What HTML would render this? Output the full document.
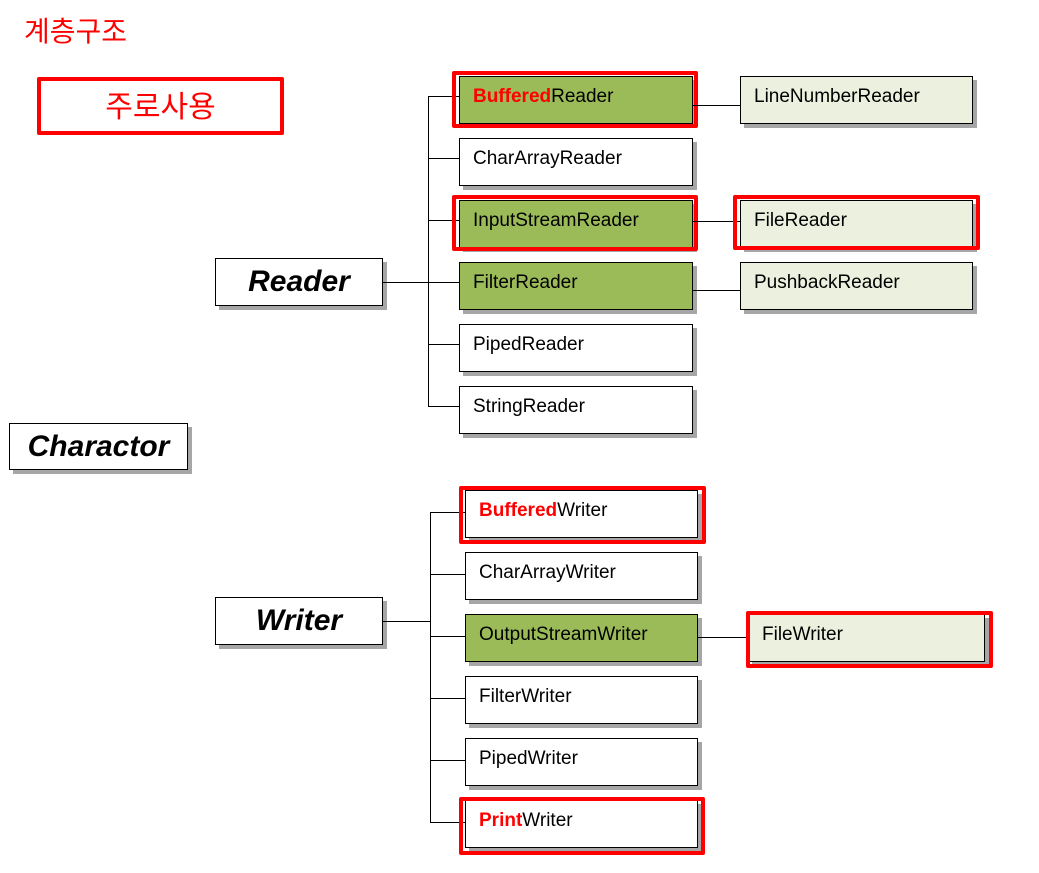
<!DOCTYPE html>
<html><head><meta charset="utf-8"><style>
body{margin:0;width:1039px;height:873px;background:#fff;position:relative;overflow:hidden;font-family:"Liberation Sans","Noto Sans CJK KR",sans-serif}
.b{position:absolute;box-sizing:border-box;border:1.5px solid #000;background:#fff;box-shadow:4px 4px 0 #a6a6a6;font-size:19px;padding-left:13px;line-height:40px;color:#000}
.g{background:#9bbb59}
.l{background:#ebf1de}
.r{position:absolute;box-sizing:border-box;border:4px solid #f00;border-radius:2px}
.h{position:absolute;height:1px;background:#000}
.v{position:absolute;width:1px;background:#000}
.big{font-size:30px;font-weight:bold;font-style:italic;text-align:center;padding-left:0;line-height:46px}
.red{color:#f00;font-weight:bold}
</style></head><body>
<div style="position:absolute;left:24px;top:10px;color:#f00;font-size:28px;font-family:'Noto Sans CJK KR',sans-serif">계층구조</div>
<div class="r" style="left:37px;top:77px;width:247px;height:58px"></div>
<div style="position:absolute;left:37px;top:80px;width:247px;text-align:center;color:#f00;font-size:30px;font-family:'Noto Sans CJK KR',sans-serif;line-height:48px">주로사용</div>

<div class="b big" style="left:215px;top:258px;width:168px;height:48px">Reader</div>
<div class="b big" style="left:9px;top:423px;width:179px;height:47px">Charactor</div>
<div class="b big" style="left:215px;top:597px;width:168px;height:48px">Writer</div>

<div class="h" style="left:383px;top:282px;width:45px"></div>
<div class="v" style="left:428px;top:96px;height:311px"></div>
<div class="h" style="left:428px;top:96px;width:31px"></div>
<div class="h" style="left:428px;top:158px;width:31px"></div>
<div class="h" style="left:428px;top:220px;width:31px"></div>
<div class="h" style="left:428px;top:282px;width:31px"></div>
<div class="h" style="left:428px;top:344px;width:31px"></div>
<div class="h" style="left:428px;top:406px;width:31px"></div>

<div class="b g" style="left:459px;top:76px;width:234px;height:48px"><span class="red">Buffered</span>Reader</div>
<div class="b" style="left:459px;top:138px;width:234px;height:48px">CharArrayReader</div>
<div class="b g" style="left:459px;top:200px;width:234px;height:48px">InputStreamReader</div>
<div class="b g" style="left:459px;top:262px;width:234px;height:48px">FilterReader</div>
<div class="b" style="left:459px;top:324px;width:234px;height:48px">PipedReader</div>
<div class="b" style="left:459px;top:386px;width:234px;height:48px">StringReader</div>
<div class="r" style="left:452px;top:71px;width:246px;height:57px"></div>
<div class="r" style="left:452px;top:195px;width:246px;height:56px"></div>

<div class="h" style="left:693px;top:105px;width:47px"></div>
<div class="h" style="left:693px;top:221px;width:47px"></div>
<div class="h" style="left:693px;top:290px;width:47px"></div>
<div class="b l" style="left:740px;top:76px;width:233px;height:48px">LineNumberReader</div>
<div class="b l" style="left:740px;top:200px;width:233px;height:48px">FileReader</div>
<div class="b l" style="left:740px;top:262px;width:233px;height:48px">PushbackReader</div>
<div class="r" style="left:733px;top:195px;width:247px;height:55px"></div>

<div class="h" style="left:383px;top:621px;width:47px"></div>
<div class="v" style="left:430px;top:512px;height:311px"></div>
<div class="h" style="left:430px;top:512px;width:35px"></div>
<div class="h" style="left:430px;top:574px;width:35px"></div>
<div class="h" style="left:430px;top:636px;width:35px"></div>
<div class="h" style="left:430px;top:698px;width:35px"></div>
<div class="h" style="left:430px;top:760px;width:35px"></div>
<div class="h" style="left:430px;top:822px;width:35px"></div>

<div class="b" style="left:465px;top:490px;width:233px;height:48px"><span class="red">Buffered</span>Writer</div>
<div class="b" style="left:465px;top:552px;width:233px;height:48px">CharArrayWriter</div>
<div class="b g" style="left:465px;top:614px;width:233px;height:48px">OutputStreamWriter</div>
<div class="b" style="left:465px;top:676px;width:233px;height:48px">FilterWriter</div>
<div class="b" style="left:465px;top:738px;width:233px;height:48px">PipedWriter</div>
<div class="b" style="left:465px;top:800px;width:233px;height:48px"><span class="red">Print</span>Writer</div>
<div class="r" style="left:459px;top:486px;width:247px;height:58px"></div>
<div class="r" style="left:459px;top:797px;width:246px;height:58px"></div>

<div class="h" style="left:698px;top:637px;width:50px"></div>
<div class="b l" style="left:748px;top:614px;width:237px;height:48px">FileWriter</div>
<div class="r" style="left:746px;top:611px;width:247px;height:57px"></div>
</body></html>
